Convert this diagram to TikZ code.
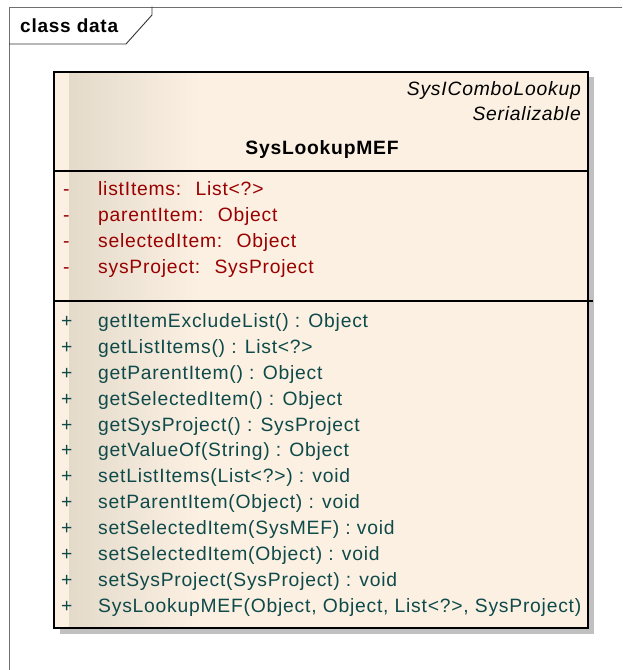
\documentclass[tikz,border=0pt]{standalone}
\usepackage{fontspec}
\setmainfont{Liberation Sans}[LetterSpace=4]
\definecolor{umlfill}{HTML}{FBF0E2}
\definecolor{umlshade}{HTML}{E4DACA}
\definecolor{attrred}{HTML}{990000}
\definecolor{opteal}{HTML}{0F4A4A}
\definecolor{shadowgray}{HTML}{C0C0C0}
\definecolor{framegray}{HTML}{707070}
\begin{document}
\begin{tikzpicture}[x=1pt,y=-1pt,line cap=rect,
  umltext/.style={inner sep=0pt,text height=13pt,text depth=4pt,
    font=\fontsize{19.3}{22}\selectfont},
  member/.style={umltext,anchor=west}]
  \useasboundingbox (0,0) rectangle (622,670);
  % diagram frame and its tab
  \draw[framegray,line width=0.9pt] (9.5,670) -- (9.5,7) -- (622,7);
  \draw[black!80,line width=0.9pt] (9.5,44) -- (126,44) -- (152,15) -- (152,7);
  \node[umltext,anchor=west,font=\bfseries\fontsize{19}{22}\selectfont] (frametitle) at (20,27.5) {class data};
  % class box
  \fill[shadowgray] (60,77) rectangle (594,634);
  \fill[umlfill] (54,72) rectangle (588,628);
  \shade[left color=umlshade,right color=umlfill] (69,72) rectangle (200,628);
  \draw[line width=1.6pt] (54,72) rectangle (588,628);
  \draw[line width=1.6pt] (54,171) -- (588,171);
  \draw[line width=1.6pt] (54,301) -- (592,301);
  % header
  \node[umltext,anchor=east,font=\itshape\fontsize{19.3}{22}\selectfont] (iface1) at (581,91) {SysIComboLookup};
  \node[umltext,anchor=east,font=\itshape\fontsize{19.3}{22}\selectfont] (iface2) at (581,116) {Serializable};
  \node[umltext,font=\bfseries\fontsize{19.3}{22}\selectfont] (classname) at (322,150) {SysLookupMEF};
  % attributes
  \foreach \txt [count=\i] in {listItems:~ List<?>,parentItem:~ Object,
      selectedItem:~ Object,sysProject:~ SysProject} {
    \node[member,text=attrred] (attrvis\i) at (63,165+26*\i) {-};
    \node[member,text=attrred] (attr\i) at (98,165+26*\i) {\txt};
  }
  % operations
  \foreach \txt [count=\i] in {getItemExcludeList() : Object,getListItems() : List<?>,
      getParentItem() : Object,getSelectedItem() : Object,
      getSysProject() : SysProject,getValueOf(String) : Object,
      setListItems(List<?>) : void,setParentItem(Object) : void,
      setSelectedItem(SysMEF) : void,setSelectedItem(Object) : void,
      setSysProject(SysProject) : void,
      {SysLookupMEF(Object, Object, List<?>, SysProject)}} {
    \node[member,text=opteal] (opvis\i) at (61,297+25.9*\i) {+};
    \node[member,text=opteal] (op\i) at (98,297+25.9*\i) {\txt};
  }
\end{tikzpicture}
\end{document}
